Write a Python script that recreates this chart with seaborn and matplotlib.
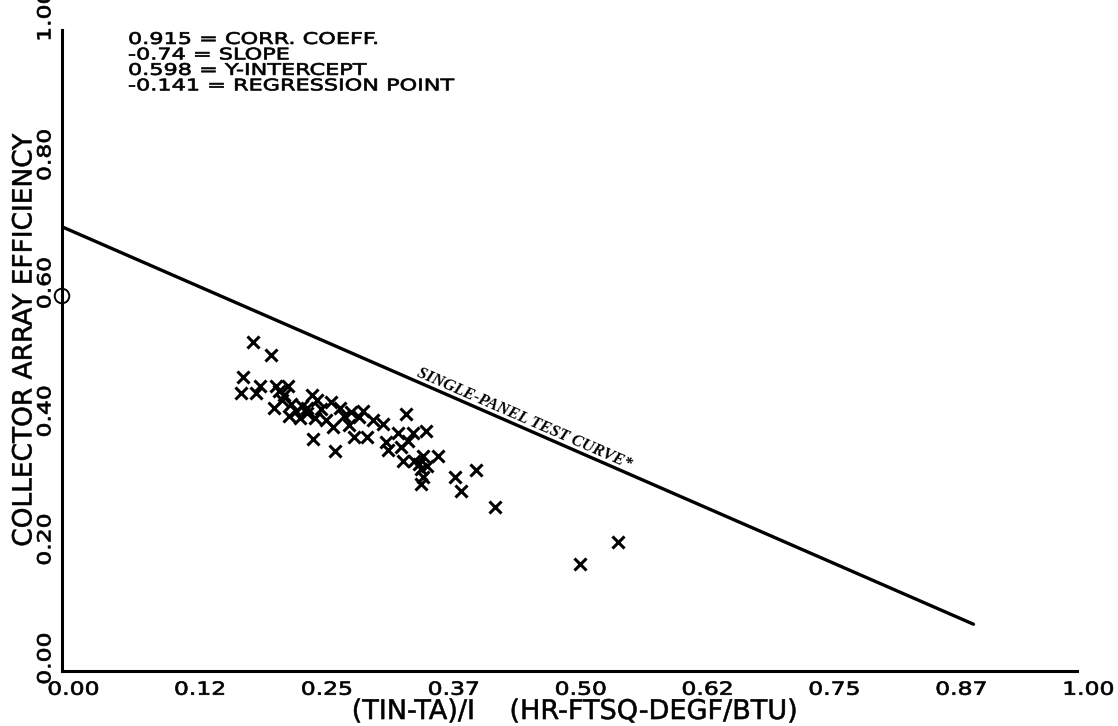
import numpy as np
import matplotlib
matplotlib.use("Agg")
import matplotlib.pyplot as plt
import matplotlib.transforms as mtransforms
from matplotlib.patheffects import AbstractPathEffect
import seaborn as sns

# measured points (TIN-TA)/I vs collector array efficiency
eff_x = [0.188, 0.206, 0.178, 0.176, 0.191, 0.195, 0.211, 0.223, 0.214, 0.219,
         0.209, 0.217, 0.226, 0.231, 0.236, 0.224, 0.234, 0.241, 0.246, 0.265,
         0.241, 0.255, 0.251, 0.247, 0.269, 0.339, 0.278, 0.293, 0.306, 0.316,
         0.267, 0.288, 0.300, 0.331, 0.346, 0.359, 0.319, 0.321, 0.334, 0.341,
         0.336, 0.347, 0.356, 0.370, 0.354, 0.356, 0.354, 0.387, 0.393, 0.408,
         0.427, 0.510, 0.548, 0.249, 0.260, 0.283, 0.297, 0.352, 0.360, 0.274,
         0.285]
eff_y = [0.514, 0.493, 0.458, 0.433, 0.433, 0.444, 0.445, 0.445, 0.437, 0.430,
         0.410, 0.422, 0.417, 0.406, 0.414, 0.398, 0.394, 0.411, 0.430, 0.419,
         0.402, 0.409, 0.422, 0.362, 0.343, 0.401, 0.398, 0.396, 0.391, 0.385,
         0.380, 0.365, 0.365, 0.372, 0.372, 0.375, 0.357, 0.344, 0.349, 0.359,
         0.328, 0.328, 0.336, 0.336, 0.315, 0.302, 0.292, 0.302, 0.281, 0.314,
         0.256, 0.167, 0.202, 0.395, 0.391, 0.383, 0.406, 0.323, 0.320, 0.410,
         0.404]

# single-panel test curve end points
curve_x = [0.0, 0.898]
curve_y = [0.693, 0.073]

# regression y-intercept marker
icpt_x = [0.0]
icpt_y = [0.585]

stats_lines = ["0.915 = CORR. COEFF.",
               "-0.74 = SLOPE",
               "0.598 = Y-INTERCEPT",
               "-0.141 = REGRESSION POINT"]

xticks = [0.0, 0.125, 0.25, 0.375, 0.5, 0.625, 0.75, 0.875, 1.0]
xtick_labels = ["0.00", "0.12", "0.25", "0.37", "0.50", "0.62", "0.75", "0.87", "1.00"]
yticks = [0.0, 0.2, 0.4, 0.6, 0.8, 1.0]
ytick_labels = ["0.00", "0.20", "0.40", "0.60", "0.80", "1.00"]


class HStretch(AbstractPathEffect):
    # widen (and slightly thicken) glyphs like the old plotter lettering
    def __init__(self, sx, lw=0.0):
        super().__init__()
        self.sx = sx
        self.lw = lw

    def draw_path(self, renderer, gc, tpath, affine, rgbFace=None):
        tr = mtransforms.Affine2D().scale(self.sx, 1) + affine
        gc0 = renderer.new_gc()
        gc0.copy_properties(gc)
        if self.lw and rgbFace is not None:
            gc0.set_linewidth(self.lw)
            gc0.set_foreground(rgbFace)
        renderer.draw_path(gc0, tpath, tr, rgbFace)
        gc0.restore()


sns.set_style("white")
plt.rcParams["font.family"] = ["DejaVu Sans"]
plt.rcParams["text.color"] = "black"
plt.rcParams["axes.labelcolor"] = "black"

fig = plt.figure(figsize=(11.18, 7.26), dpi=100)
ax = fig.add_axes([62 / 1118, 55 / 726, 1015 / 1118, 641 / 726])

sns.lineplot(x=curve_x, y=curve_y, ax=ax, color="black", linewidth=2.4)
sns.scatterplot(x=eff_x, y=eff_y, ax=ax, marker="x", color="black",
                s=75, linewidth=2.2, zorder=3)
ax.scatter(icpt_x, icpt_y, marker="o", s=110, facecolors="none",
           edgecolors="black", linewidths=1.4, clip_on=False, zorder=4)

ax.set_xlim(0, 1)
ax.set_ylim(0, 1)
for side in ["top", "right"]:
    ax.spines[side].set_visible(False)
for side in ["left", "bottom"]:
    ax.spines[side].set_linewidth(2.2)
    ax.spines[side].set_color("black")

ax.set_xticks(xticks)
ax.set_xticklabels(xtick_labels)
ax.set_yticks(yticks)
ax.set_yticklabels(ytick_labels, rotation=90, va="center")
ax.tick_params(axis="both", direction="out", length=5, width=2,
               colors="black", labelsize=13)
ax.tick_params(axis="x", pad=2)
ax.tick_params(axis="y", pad=0.5)

stretch = [HStretch(1.3, 0.5)]
dpi = fig.dpi
for lbl in ax.get_xticklabels():
    lbl.set_path_effects(stretch)
    lbl.set_transform(lbl.get_transform()
                      + mtransforms.ScaledTranslation(5 / dpi, 0, fig.dpi_scale_trans))
y_extra = [6, -3, -3, -3, -3, 8]
for lbl, dy in zip(ax.get_yticklabels(), y_extra):
    lbl.set_path_effects(stretch)
    lbl.set_transform(lbl.get_transform()
                      + mtransforms.ScaledTranslation(0, dy / dpi, fig.dpi_scale_trans))

ax.set_xlabel("(TIN-TA)/I    (HR-FTSQ-DEGF/BTU)", fontsize=19.5)
ax.xaxis.label.set_va("center")
ax.xaxis.set_label_coords(0.505, -0.064)
ax.xaxis.label.set_path_effects([HStretch(1.0, 0.4)])
ax.set_ylabel("COLLECTOR ARRAY EFFICIENCY", fontsize=19)
ax.yaxis.label.set_va("center")
ax.yaxis.set_label_coords(-0.037, 0.516)
ax.yaxis.label.set_path_effects([HStretch(1.0, 0.4)])

# stats block
ax.text(0.065, 0.997, "\n".join(stats_lines), transform=ax.transAxes,
        fontsize=11.5, va="top", ha="left", linespacing=1.04,
        path_effects=[HStretch(1.4, 0.5)])

# curve label along the line
p1 = ax.transData.transform((curve_x[0], curve_y[0]))
p2 = ax.transData.transform((curve_x[1], curve_y[1]))
angle = np.degrees(np.arctan2(p2[1] - p1[1], p2[0] - p1[0]))
lx = 0.452
ly = curve_y[0] + (curve_y[1] - curve_y[0]) * lx / curve_x[1]
off = 3.5
ax.annotate("SINGLE-PANEL TEST CURVE*", xy=(lx, ly),
            xytext=(-off * np.sin(np.radians(angle)), off * np.cos(np.radians(angle))),
            textcoords="offset points", rotation=angle, rotation_mode="anchor",
            ha="center", va="baseline", fontsize=12, color="black",
            family="Liberation Serif", style="italic", weight="bold")

fig.savefig("out.png", dpi=100)
